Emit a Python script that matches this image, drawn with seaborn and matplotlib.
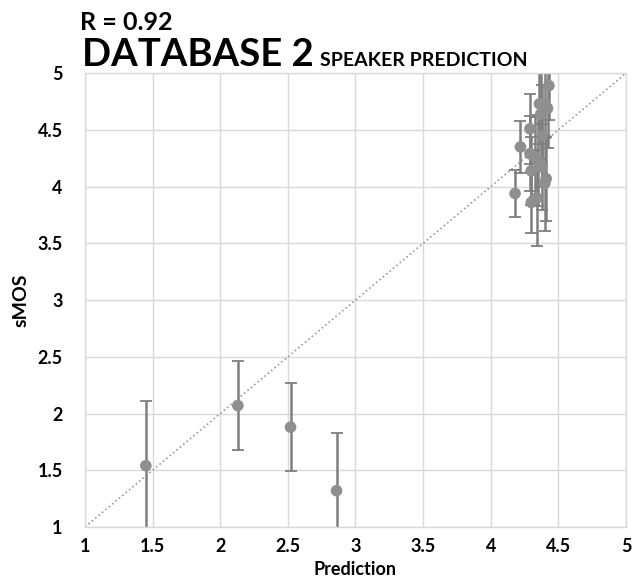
import numpy as np
import pandas as pd
from matplotlib import pyplot as plt
import seaborn as sns

# values
prediction = [1.45, 2.13, 2.52, 2.86,
              4.18, 4.22, 4.29, 4.29, 4.30, 4.30, 4.34, 4.33, 4.35,
              4.36, 4.37, 4.38, 4.40, 4.41, 4.40, 4.42, 4.43, 4.38]
smos = [1.54, 2.07, 1.88, 1.32,
        3.94, 4.35, 4.51, 4.29, 4.14, 3.86, 3.90, 4.26, 4.23,
        4.73, 4.64, 4.17, 4.73, 4.07, 4.03, 4.69, 4.89, 4.45]
smos_err = [0.57, 0.39, 0.39, 0.51,
            0.21, 0.23, 0.31, 0.33, 0.30, 0.27, 0.42, 0.35, 0.40,
            0.35, 0.40, 0.38, 0.30, 0.37, 0.42, 0.35, 0.30, 0.45]
ticks = [1, 1.5, 2, 2.5, 3, 3.5, 4, 4.5, 5]
tick_labels = ['1', '1.5', '2', '2.5', '3', '3.5', '4', '4.5', '5']

df = pd.DataFrame({'Prediction': prediction, 'sMOS': smos, 'err': smos_err})

sns.set_style('whitegrid')
plt.rcParams['font.family'] = ['Lato', 'DejaVu Sans']
plt.rcParams['text.color'] = 'black'

fig = plt.figure(figsize=(6.44, 5.81), dpi=100)
ax = fig.add_axes([0.132, 0.093, 0.840, 0.781])

ax.plot([1, 5], [1, 5], color='#9a9a9a', linestyle=':', linewidth=1.2, zorder=1)
ax.errorbar(df['Prediction'], df['sMOS'], yerr=df['err'], fmt='none',
            ecolor='#7f7f7f', elinewidth=1.8, capsize=4, capthick=1.3, zorder=2)
sns.scatterplot(data=df, x='Prediction', y='sMOS', ax=ax, color='#8f8f8f',
                s=70, edgecolor='none', zorder=3)

ax.set_xlim(1, 5)
ax.set_ylim(1, 5)
ax.set_xticks(ticks)
ax.set_xticklabels(tick_labels)
ax.set_yticks(ticks)
ax.set_yticklabels(tick_labels)
ax.tick_params(labelsize=13, length=0, labelcolor='black')
ax.tick_params(axis='y', pad=16)
ax.tick_params(axis='x', pad=8)
for lab in ax.get_xticklabels() + ax.get_yticklabels():
    lab.set_fontweight('bold')
ax.grid(color='#d9d9d9', linewidth=1)
for sp in ax.spines.values():
    sp.set_color('#d9d9d9')
    sp.set_linewidth(1)

ax.set_xlabel('Prediction', fontsize=13, fontweight='bold', labelpad=4, color='black')
ax.set_ylabel('sMOS', fontsize=14, fontweight='bold', labelpad=6, color='black')

fig.text(0.125, 0.948, 'R = 0.92', fontsize=18, fontweight='bold', va='baseline')
title = fig.text(0.127, 0.886, 'DATABASE 2', fontsize=27.5, fontweight='bold', va='baseline')
fig.canvas.draw()
bb = title.get_window_extent()
fig.text((bb.x1 + 6) / fig.bbox.width, 0.886, 'SPEAKER PREDICTION', fontsize=14,
         fontweight='bold', va='baseline')

fig.savefig('out.png', dpi=100)
